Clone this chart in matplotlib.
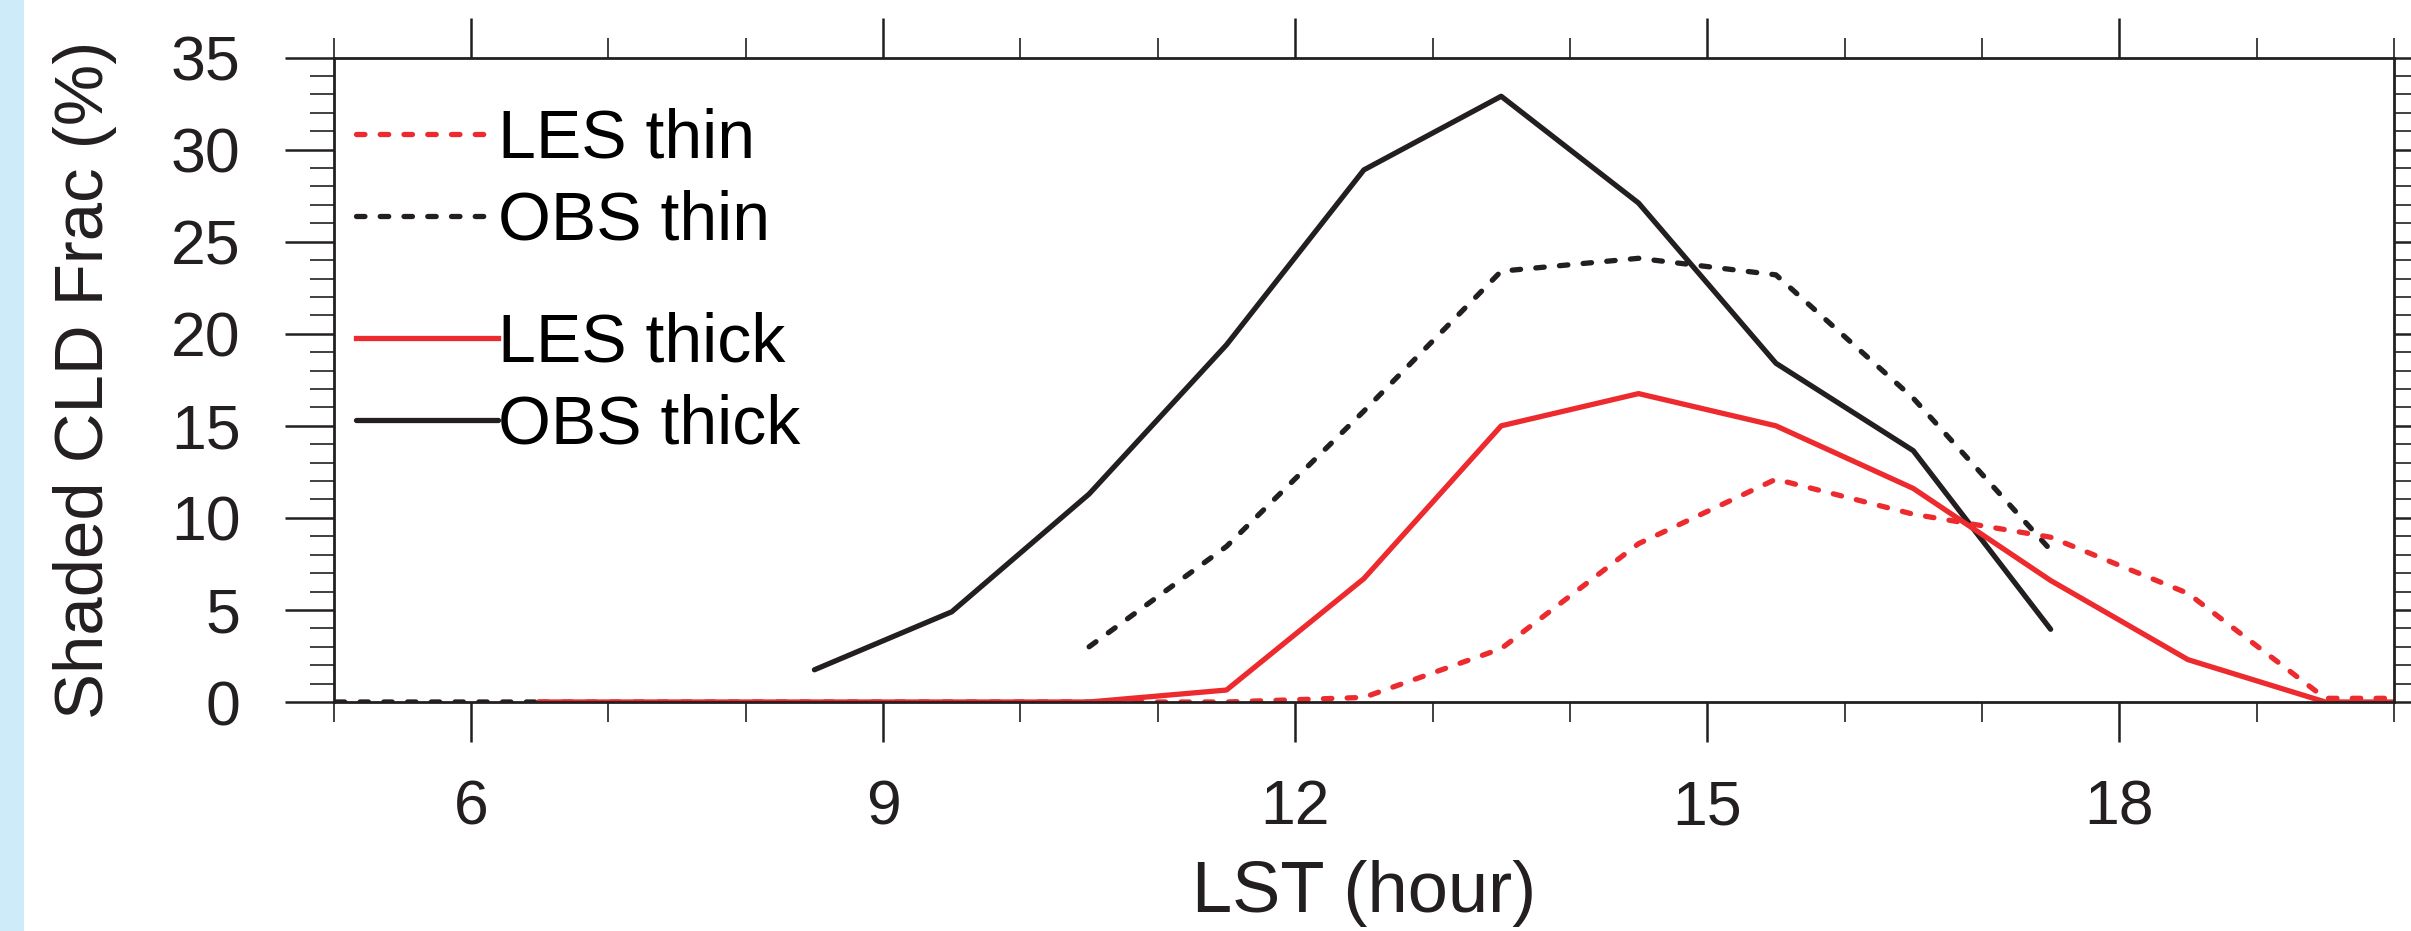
import numpy as np
import matplotlib
import matplotlib.pyplot as plt
from matplotlib import font_manager
from matplotlib.patches import Rectangle
from matplotlib.ticker import MultipleLocator

matplotlib.use('agg')

# local solar time (hour), half-hour bins
hours = [4.5, 5.5, 6.5, 7.5, 8.5, 9.5, 10.5, 11.5, 12.5, 13.5, 14.5, 15.5, 16.5, 17.5, 18.5, 19.5, 20.5]
nan = np.nan
les_thin = [nan, nan, 0, 0, 0, 0, 0, 0, 0.25, 2.9, 8.6, 12.1, 10.2, 8.95, 5.9, 0.2, 0.2]
obs_thin = [0, 0, 0, nan, nan, nan, 3.0, 8.45, 15.8, 23.4, 24.1, 23.2, 16.5, 8.25, nan, nan, nan]
les_thick = [nan, nan, 0, 0, 0, 0, 0, 0.65, 6.7, 15.0, 16.75, 15.0, 11.6, 6.6, 2.3, 0, 0]
obs_thick = [nan, nan, nan, nan, 1.75, 4.9, 11.3, 19.4, 28.9, 32.9, 27.1, 18.4, 13.65, 3.95, nan, nan, nan]

labels = ['LES thin', 'OBS thin', 'LES thick', 'OBS thick']

RED = '#ED2A2E'
BLACK = '#231F20'

plt.rcParams['font.family'] = ['Liberation Sans', 'DejaVu Sans']

W, H = 2411, 931
fig = plt.figure(figsize=(W / 100, H / 100), dpi=100)
fig.add_artist(Rectangle((0, 0), 24 / W, 1, transform=fig.transFigure,
                         facecolor='#CDEBF8', edgecolor='none'))

ax = fig.add_axes([333.7 / W, 1 - 702 / H, (2394 - 333.7) / W, (702 - 57.6) / H])

lw = 3.8
dash = (1.6, 2.9)
l_obs_thin, = ax.plot(hours, obs_thin, color=BLACK, lw=lw, dashes=dash, dash_capstyle='round')
l_obs_thick, = ax.plot(hours, obs_thick, color=BLACK, lw=lw, solid_capstyle='round')
l_les_thin, = ax.plot(hours, les_thin, color=RED, lw=lw, dashes=dash, dash_capstyle='round')
l_les_thick, = ax.plot(hours, les_thick, color=RED, lw=lw)

ax.set_xlim(5, 20)
ax.set_ylim(0, 35)
ax.xaxis.set_major_locator(MultipleLocator(3))
ax.xaxis.set_minor_locator(MultipleLocator(1))
ax.yaxis.set_major_locator(MultipleLocator(5))
ax.yaxis.set_minor_locator(MultipleLocator(1))

for s in ax.spines.values():
    s.set_linewidth(2.0)
    s.set_color(BLACK)

ax.tick_params(which='both', direction='out', top=True, right=True, color=BLACK,
               labelcolor=BLACK, labelsize=45)
ax.tick_params(axis='x', which='major', length=28.8, width=1.8, pad=26)
ax.tick_params(axis='x', which='minor', length=14.4, width=1.2)
ax.tick_params(axis='y', which='major', length=35, width=1.8, pad=32)
ax.tick_params(axis='y', which='minor', length=17, width=1.2)

ax.set_xlabel('LST (hour)', fontsize=52, color=BLACK)
ax.xaxis.set_label_coords(0.5, -0.2453)

# the reference uses a condensed face for the y title
names = {f.name for f in font_manager.fontManager.ttflist}
yfam = 'Liberation Sans'
for cand in ['Liberation Sans Narrow', 'DejaVu Sans Condensed']:
    if cand in names:
        yfam = cand
        break
ylab = ax.set_ylabel('Shaded CLD Frac (%)', fontsize=50, family=yfam, color=BLACK,
                     va='center')
ax.yaxis.set_label_coords((85 - 333.7) / (2394 - 333.7), 0.5)
# scale the title so it spans about the same length as the reference
renderer = fig.canvas.get_renderer()
ext = ylab.get_window_extent(renderer)
ylab.set_fontsize(50 * 680 / ext.height)

leg_kw = dict(frameon=False, fontsize=49, handlelength=2.08, handletextpad=0,
              borderpad=0, borderaxespad=0, labelspacing=0.26, loc='upper left',
              bbox_transform=fig.transFigure)
leg1 = ax.legend([l_les_thin, l_obs_thin], labels[:2],
                 bbox_to_anchor=(356 / W, 1 - 108 / H), **leg_kw)
ax.add_artist(leg1)
ax.legend([l_les_thick, l_obs_thick], labels[2:],
          bbox_to_anchor=(356 / W, 1 - 312 / H), **leg_kw)

plt.savefig('out.png', dpi=100)
plt.close()
